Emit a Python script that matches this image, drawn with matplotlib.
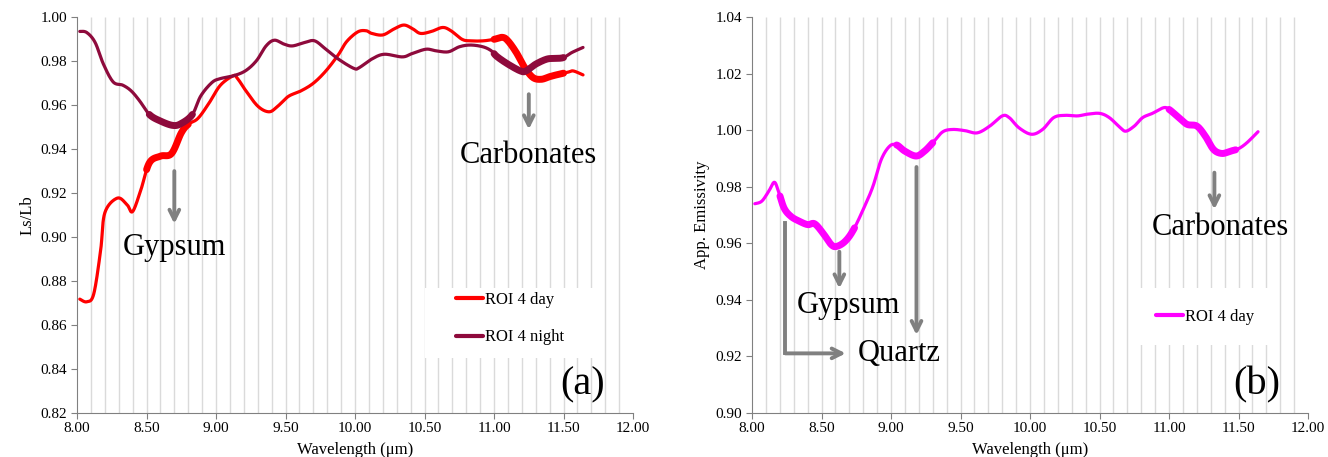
import numpy as np
import matplotlib
matplotlib.use("Agg")
import matplotlib.pyplot as plt
from matplotlib.patches import Rectangle

plt.rcParams['font.family'] = ['Liberation Serif', 'DejaVu Serif']

# panel (a): Ls/Lb, ROI 4 day
day_wl = [8.02, 8.07, 8.12, 8.17, 8.20, 8.29, 8.36, 8.40, 8.46, 8.52, 8.60, 8.68,
          8.75, 8.80, 8.87, 8.95, 9.03, 9.12, 9.15, 9.21, 9.30, 9.38, 9.44, 9.52,
          9.61, 9.70, 9.79, 9.88, 9.94, 10.02, 10.08, 10.12, 10.20, 10.28, 10.35,
          10.41, 10.47, 10.55, 10.63, 10.69, 10.77, 10.83, 10.92, 11.00, 11.06,
          11.10, 11.16, 11.22, 11.28, 11.34, 11.40, 11.46, 11.53, 11.57, 11.64]
day_val = [0.8717, 0.8705, 0.8740, 0.8940, 0.9110, 0.9177, 0.9147, 0.9116, 0.9216,
           0.9337, 0.9368, 0.9380, 0.9474, 0.9513, 0.9540, 0.9610, 0.9690, 0.9733,
           0.9726, 0.9670, 0.9596, 0.9570, 0.9593, 0.9640, 0.9665, 0.9700, 0.9756,
           0.9830, 0.9890, 0.9934, 0.9939, 0.9927, 0.9920, 0.9947, 0.9965, 0.9950,
           0.9927, 0.9936, 0.9954, 0.9939, 0.9900, 0.9893, 0.9893, 0.9900, 0.9909,
           0.9893, 0.9840, 0.9772, 0.9726, 0.9718, 0.9730, 0.9740, 0.9750, 0.9756,
           0.9738]

# panel (a): Ls/Lb, ROI 4 night
night_wl = [8.02, 8.07, 8.13, 8.19, 8.26, 8.33, 8.39, 8.45, 8.52, 8.60, 8.69, 8.75,
            8.83, 8.89, 8.97, 9.03, 9.12, 9.21, 9.29, 9.36, 9.42, 9.49, 9.55, 9.64,
            9.71, 9.79, 9.88, 9.99, 10.03, 10.12, 10.21, 10.34, 10.41, 10.51, 10.58,
            10.67, 10.75, 10.83, 10.92, 10.98, 11.02, 11.10, 11.19, 11.23, 11.30,
            11.38, 11.44, 11.50, 11.56, 11.64]
night_val = [0.9936, 0.9931, 0.9886, 0.9787, 0.9706, 0.9691, 0.9665, 0.9620, 0.9558,
             0.9528, 0.9508, 0.9517, 0.9558, 0.9642, 0.9703, 0.9721, 0.9733, 0.9756,
             0.9802, 0.9870, 0.9896, 0.9878, 0.9870, 0.9886, 0.9893, 0.9855, 0.9810,
             0.9768, 0.9771, 0.9810, 0.9832, 0.9820, 0.9835, 0.9855, 0.9848, 0.9843,
             0.9866, 0.9874, 0.9866, 0.9848, 0.9822, 0.9787, 0.9756, 0.9756, 0.9787,
             0.9810, 0.9813, 0.9817, 0.9840, 0.9863]

# panel (b): apparent emissivity, ROI 4 day
emis_wl = [8.02, 8.07, 8.12, 8.16, 8.19, 8.23, 8.28, 8.34, 8.40, 8.45, 8.51, 8.57,
           8.61, 8.67, 8.73, 8.81, 8.87, 8.93, 8.99, 9.04, 9.10, 9.18, 9.24, 9.30,
           9.37, 9.44, 9.53, 9.62, 9.71, 9.80, 9.85, 9.92, 10.01, 10.09, 10.17,
           10.25, 10.34, 10.41, 10.50, 10.57, 10.65, 10.69, 10.75, 10.81, 10.88,
           10.96, 11.00, 11.07, 11.13, 11.20, 11.26, 11.32, 11.38, 11.44, 11.50,
           11.56, 11.64]
emis_val = [0.9740, 0.9749, 0.9784, 0.9816, 0.9784, 0.9725, 0.9695, 0.9678, 0.9666,
            0.9669, 0.9636, 0.9595, 0.9589, 0.9607, 0.9648, 0.9731, 0.9802, 0.9897,
            0.9944, 0.9948, 0.9926, 0.9909, 0.9926, 0.9956, 0.9994, 1.0003, 0.9999,
            0.9991, 1.0015, 1.0051, 1.0045, 1.0009, 0.9986, 1.0003, 1.0045, 1.0053,
            1.0051, 1.0057, 1.0060, 1.0045, 1.0009, 0.9997, 1.0015, 1.0045, 1.0060,
            1.0080, 1.0074, 1.0045, 1.0021, 1.0015, 0.9980, 0.9932, 0.9918, 0.9926,
            0.9935, 0.9956, 0.9995]

# highlighted (thick) absorption ranges
day_bands = [(8.50, 8.80), (11.00, 11.50)]
night_bands = [(8.52, 8.83), (11.00, 11.50)]
emis_bands = [(8.20, 8.74), (9.04, 9.30), (11.00, 11.48)]

DAY = '#FF0000'
NIGHT = '#8E0A3C'
MAG = '#FF00FF'
GRAY = '#808080'


def smooth(wl, val, n=20):
    # Catmull-Rom curve through the read-off points
    p = np.column_stack([wl, val])
    p = np.vstack([p[0], p, p[-1]])
    out = []
    t = np.linspace(0, 1, n, endpoint=False)[:, None]
    for i in range(1, len(p) - 2):
        p0, p1, p2, p3 = p[i - 1], p[i], p[i + 1], p[i + 2]
        seg = 0.5 * ((2 * p1) + (-p0 + p2) * t
                     + (2 * p0 - 5 * p1 + 4 * p2 - p3) * t ** 2
                     + (-p0 + 3 * p1 - 3 * p2 + p3) * t ** 3)
        out.append(seg)
    out.append(p[-2][None, :])
    out = np.vstack(out)
    return out[:, 0], out[:, 1]


def draw_curve(ax, wl, val, color, bands, label):
    x, y = smooth(wl, val)
    ax.plot(x, y, color=color, lw=2.3, label=label, zorder=3,
            solid_capstyle='round', solid_joinstyle='round')
    for lo, hi in bands:
        m = (x >= lo) & (x <= hi)
        ax.plot(x[m], y[m], color=color, lw=5, zorder=3, solid_capstyle='round')


def style_axes(ax, ylo, yhi, ylabel):
    ax.set_xlim(8, 12)
    ax.set_ylim(ylo, yhi)
    ax.set_xticks(np.arange(8, 12.01, 0.5))
    ax.set_xticklabels([f'{v:.2f}' for v in np.arange(8, 12.01, 0.5)])
    ax.set_yticks(np.arange(ylo, yhi + 0.001, 0.02))
    ax.set_yticklabels([f'{v:.2f}' for v in np.arange(ylo, yhi + 0.001, 0.02)])
    ax.vlines(np.arange(8.1, 11.95, 0.1), ylo, yhi, color='#DADADA', lw=1, zorder=0)
    for s in ['top', 'right']:
        ax.spines[s].set_visible(False)
    for s in ['left', 'bottom']:
        ax.spines[s].set_color(GRAY)
    ax.tick_params(direction='out', length=4, color=GRAY, labelsize=11, pad=3)
    ax.set_xlabel('Wavelength (\u03bcm)', fontsize=12, labelpad=5)
    ax.set_ylabel(ylabel, fontsize=12, labelpad=4)


def arrow(ax, x0, y0, x1, y1):
    ax.annotate('', xy=(x1, y1), xytext=(x0, y0),
                arrowprops=dict(arrowstyle='->,head_length=0.7,head_width=0.35',
                                color=GRAY, lw=2.8, shrinkA=0, shrinkB=0), zorder=4)


fig = plt.figure(figsize=(13.28, 4.57), dpi=100)
ax1 = fig.add_axes([0.058, 0.097, 0.4187, 0.865])
ax2 = fig.add_axes([0.5663, 0.097, 0.4187, 0.865])

# ---- (a)
style_axes(ax1, 0.82, 1.00, 'Ls/Lb')
draw_curve(ax1, day_wl, day_val, DAY, day_bands, 'ROI 4 day')
draw_curve(ax1, night_wl, night_val, NIGHT, night_bands, 'ROI 4 night')
ax1.add_patch(Rectangle((10.50, 0.8447), 1.21, 0.0319, facecolor='white',
                        edgecolor='none', zorder=1))
leg = ax1.legend(loc='center left', bbox_to_anchor=(0.655, 0.238), frameon=False,
                 fontsize=12, handlelength=1.6, handletextpad=0.1, labelspacing=1.3)
for h in leg.legend_handles:
    h.set_linewidth(3)
arrow(ax1, 8.70, 0.930, 8.70, 0.906)
ax1.text(8.70, 0.895, 'Gypsum', fontsize=22, ha='center', va='center', zorder=5)
arrow(ax1, 11.25, 0.965, 11.25, 0.949)
ax1.text(11.25, 0.937, 'Carbonates', fontsize=22, ha='center', va='center', zorder=5)
ax1.text(11.64, 0.8325, '(a)', fontsize=29, ha='center', va='center', zorder=5)

# ---- (b)
style_axes(ax2, 0.90, 1.04, 'App. Emissivity')
draw_curve(ax2, emis_wl, emis_val, MAG, emis_bands, 'ROI 4 day')
ax2.add_patch(Rectangle((10.71, 0.924), 1.04, 0.020, facecolor='white',
                        edgecolor='none', zorder=1))
leg2 = ax2.legend(loc='center left', bbox_to_anchor=(0.70, 0.243), frameon=False,
                  fontsize=12, handlelength=1.6, handletextpad=0.1)
for h in leg2.legend_handles:
    h.set_linewidth(3)
arrow(ax2, 8.628, 0.957, 8.628, 0.944)
ax2.text(8.695, 0.938, 'Gypsum', fontsize=22, ha='center', va='center', zorder=5)
ax2.plot([8.24, 8.24], [0.967, 0.921], color=GRAY, lw=2.8, zorder=4)
arrow(ax2, 8.24, 0.921, 8.674, 0.921)
ax2.text(9.058, 0.921, 'Quartz', fontsize=22, ha='center', va='center', zorder=5)
arrow(ax2, 9.183, 0.987, 9.183, 0.9275)
arrow(ax2, 11.326, 0.985, 11.326, 0.972)
ax2.text(11.372, 0.9656, 'Carbonates', fontsize=22, ha='center', va='center', zorder=5)
ax2.text(11.63, 0.9098, '(b)', fontsize=29, ha='center', va='center', zorder=5)

fig.savefig('out.png', dpi=100)
